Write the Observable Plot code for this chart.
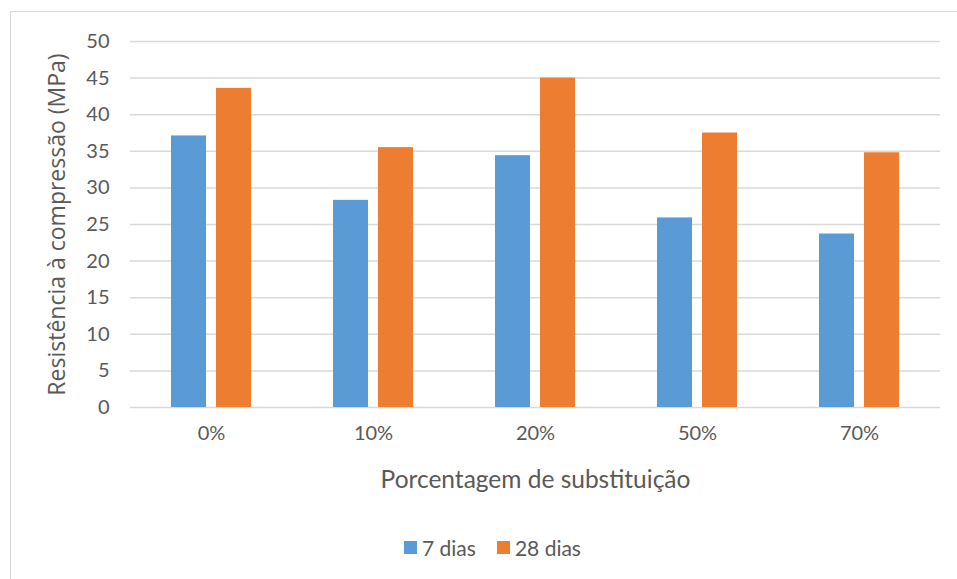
<!DOCTYPE html>
<html><head><meta charset="utf-8">
<script src="https://cdn.jsdelivr.net/npm/d3@7"></script>
<script src="https://cdn.jsdelivr.net/npm/@observablehq/plot@0.6"></script>
<style>
body{margin:0;background:#fff;font-family:Lato,sans-serif;}
#wrap{position:relative;width:957px;height:579px;overflow:hidden;}
#frame{position:absolute;left:10px;top:11px;width:960px;height:590px;border:1px solid #d9d9d9;box-sizing:border-box;}
#chart{position:absolute;left:0;top:0;}
#legend{position:absolute;top:535px;left:404px;display:flex;align-items:center;font-family:Lato,sans-serif;font-size:21px;color:#595959;}
#legend span.sw{display:inline-block;width:13px;height:13px;margin-right:5px;}
#legend span.it{display:flex;align-items:center;margin-right:21px;}
</style>
</head><body>
<div id="wrap"><div id="frame"></div><div id="chart"></div><div id="legend"></div></div>
<script>
const categories = ["0%", "10%", "20%", "50%", "70%"];
const series = ["7 dias", "28 dias"];
const dias7 = [37.1, 28.3, 34.4, 25.9, 23.7];
const dias28 = [43.6, 35.5, 45.0, 37.5, 34.8];
const yTicks = [0, 5, 10, 15, 20, 25, 30, 35, 40, 45, 50];
const colors = ["#5B9BD5", "#ED7D31"];
const yLabel = "Resistência à compressão (MPa)";
const xLabel = "Porcentagem de substituição";

const data = [];
categories.forEach((c, i) => {
  data.push({cat: c, serie: series[0], value: dias7[i]});
  data.push({cat: c, serie: series[1], value: dias28[i]});
});

const chart = Plot.plot({
  width: 957, height: 579,
  marginLeft: 130, marginRight: 17, marginTop: 41, marginBottom: 172,
  style: {fontFamily: "Lato, sans-serif", color: "#595959", background: "transparent"},
  fx: {domain: categories, padding: 0},
  x: {domain: series, paddingInner: 0.2174, paddingOuter: 0.8696, axis: null},
  y: {domain: [0, 50]},
  color: {domain: series, range: colors},
  marks: [
    Plot.gridY(yTicks, {stroke: "#d9d9d9", strokeOpacity: 1, strokeWidth: 1.5}),
    Plot.barY(data, {fx: "cat", x: "serie", y: "value", fill: "serie"}),
    Plot.axisY(yTicks, {tickSize: 0, tickPadding: 21, fontSize: 20, fill: "#595959",
      label: yLabel, labelAnchor: "center", labelOffset: 82, labelArrow: "none"}),
    Plot.axisFx({anchor: "bottom", tickSize: 0, tickPadding: 18, fontSize: 20, fill: "#595959",
      label: xLabel, labelAnchor: "center", labelOffset: 80, labelArrow: "none"})
  ]
});
chart.querySelectorAll("text").forEach(t => {
  const s = t.textContent.trim();
  if (s === yLabel) { t.style.fontFamily = "'Open Sans', sans-serif"; t.style.fontSize = "23px"; }
  if (s === xLabel) { t.style.fontSize = "24.5px"; }
});
document.getElementById("chart").appendChild(chart);

const leg = document.getElementById("legend");
series.forEach((s, i) => {
  const it = document.createElement("span"); it.className = "it";
  const sw = document.createElement("span"); sw.className = "sw"; sw.style.background = colors[i];
  it.appendChild(sw); it.appendChild(document.createTextNode(s));
  leg.appendChild(it);
});
</script>
</body></html>
